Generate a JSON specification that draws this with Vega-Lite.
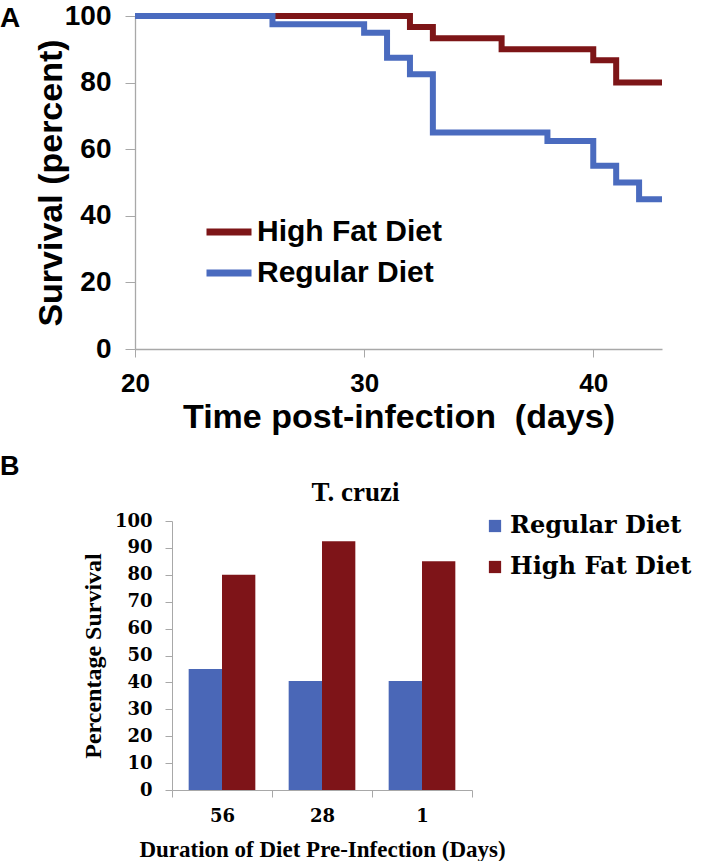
{
  "$schema": "https://vega.github.io/schema/vega-lite/v6.json",
  "padding": {"top": 2, "left": 0, "right": 0, "bottom": 0},
  "background": "white",
  "spacing": 19,
  "config": {
    "view": {"stroke": null},
    "axis": {"grid": false, "labelColor": "black", "titleColor": "black", "domainColor": "#a8a8a8", "tickColor": "#a8a8a8", "labelFlush": false, "labelOverlap": false}
  },
  "resolve": {"scale": {"color": "independent"}, "legend": {"color": "independent"}},
  "datasets": {
    "survival": [
      {"diet": "High Fat Diet", "day": 20, "survival": 100},
      {"diet": "High Fat Diet", "day": 32, "survival": 96.7},
      {"diet": "High Fat Diet", "day": 33, "survival": 93.3},
      {"diet": "High Fat Diet", "day": 36, "survival": 90},
      {"diet": "High Fat Diet", "day": 40, "survival": 86.7},
      {"diet": "High Fat Diet", "day": 41, "survival": 80},
      {"diet": "High Fat Diet", "day": 43, "survival": 80},
      {"diet": "Regular Diet", "day": 20, "survival": 100},
      {"diet": "Regular Diet", "day": 26, "survival": 97.5},
      {"diet": "Regular Diet", "day": 30, "survival": 95},
      {"diet": "Regular Diet", "day": 31, "survival": 87.5},
      {"diet": "Regular Diet", "day": 32, "survival": 82.5},
      {"diet": "Regular Diet", "day": 33, "survival": 65},
      {"diet": "Regular Diet", "day": 38, "survival": 62.5},
      {"diet": "Regular Diet", "day": 40, "survival": 55},
      {"diet": "Regular Diet", "day": 41, "survival": 50},
      {"diet": "Regular Diet", "day": 42, "survival": 45},
      {"diet": "Regular Diet", "day": 43, "survival": 45}
    ],
    "bars": [
      {"duration": "56", "diet": "Regular Diet", "value": 45},
      {"duration": "56", "diet": "High Fat Diet", "value": 80},
      {"duration": "28", "diet": "Regular Diet", "value": 40.5},
      {"duration": "28", "diet": "High Fat Diet", "value": 92.5},
      {"duration": "1", "diet": "Regular Diet", "value": 40.5},
      {"duration": "1", "diet": "High Fat Diet", "value": 85}
    ]
  },
  "vconcat": [
    {
      "title": {"text": "A", "anchor": "start", "frame": "group", "dx": -135, "offset": -31, "font": "Liberation Sans", "fontSize": 28, "fontWeight": "bold", "color": "black"},
      "width": 527,
      "height": 333,
      "data": {"name": "survival"},
      "mark": {"type": "line", "interpolate": "step-after", "strokeWidth": 6, "strokeJoin": "miter"},
      "encoding": {
        "x": {
          "field": "day", "type": "quantitative",
          "scale": {"domain": [20, 43], "nice": false, "zero": false},
          "axis": {"values": [20, 30, 40], "title": "Time post-infection\u00a0 (days)", "labelFont": "Liberation Sans", "labelFontSize": 26, "labelFontWeight": "bold", "titleFont": "Liberation Sans", "titleFontSize": 34, "titleFontWeight": "bold", "tickSize": 8, "labelPadding": 13, "titlePadding": 4, "domainWidth": 1.3}
        },
        "y": {
          "field": "survival", "type": "quantitative",
          "scale": {"domain": [0, 100], "nice": false},
          "axis": {"values": [0, 20, 40, 60, 80, 100], "title": "Survival (percent)", "labelFont": "Liberation Sans", "labelFontSize": 28, "labelFontWeight": "bold", "titleFont": "Liberation Sans", "titleFontSize": 34, "titleFontWeight": "bold", "tickSize": 10, "labelPadding": 14, "titlePadding": -4, "domainWidth": 1.3}
        },
        "color": {
          "field": "diet", "type": "nominal",
          "scale": {"domain": ["High Fat Diet", "Regular Diet"], "range": ["#7d1517", "#4a6bbf"]},
          "legend": {"orient": "none", "legendX": 68, "legendY": 190, "title": null, "symbolType": "stroke", "symbolSize": 2025, "symbolStrokeWidth": 7, "labelFont": "Liberation Sans", "labelFontSize": 30, "labelFontWeight": "bold", "labelColor": "black", "rowPadding": 0, "labelOffset": 2, "labelLimit": 0}
        }
      }
    },
    {
      "title": {"text": "B", "anchor": "start", "frame": "group", "dx": -135, "offset": -2, "font": "Liberation Sans", "fontSize": 27, "fontWeight": "bold", "color": "black"},
      "vconcat": [
        {
          "title": {"text": "T. cruzi", "anchor": "middle", "frame": "group", "dx": 52, "offset": 5, "font": "Liberation Serif", "fontSize": 27, "fontWeight": "bold", "color": "black"},
          "width": 337,
          "height": 269,
          "data": {"name": "bars"},
          "mark": {"type": "bar"},
          "encoding": {
            "x": {
              "field": "duration", "type": "nominal", "sort": ["56", "28", "1"],
              "scale": {"paddingInner": 0, "paddingOuter": 0, "range": [37, 337]},
              "axis": {"title": "Duration of Diet Pre-Infection (Days)", "labelAngle": 0, "tickBand": "extent", "labelFont": "DejaVu Serif", "labelFontSize": 18, "labelFontWeight": "bold", "titleFont": "Liberation Serif", "titleFontSize": 23, "titleFontWeight": "bold", "tickSize": 7, "labelPadding": 10, "titlePadding": 13}
            },
            "xOffset": {"field": "diet", "type": "nominal", "sort": ["Regular Diet", "High Fat Diet"], "scale": {"paddingOuter": 0.5, "paddingInner": 0}},
            "y": {
              "field": "value", "type": "quantitative",
              "scale": {"domain": [0, 100], "nice": false},
              "axis": {"offset": -37, "values": [0, 10, 20, 30, 40, 50, 60, 70, 80, 90, 100], "title": "Percentage Survival", "labelFont": "DejaVu Serif", "labelFontSize": 18, "labelFontWeight": "bold", "titleFont": "Liberation Serif", "titleFontSize": 24, "titleFontWeight": "bold", "tickSize": 7, "labelPadding": 13, "titlePadding": 9}
            },
            "color": {
              "field": "diet", "type": "nominal",
              "scale": {"domain": ["Regular Diet", "High Fat Diet"], "range": ["#4a67b7", "#7e1418"]},
              "legend": {"orient": "none", "legendX": 348, "legendY": -7, "title": null, "symbolType": "square", "symbolSize": 150, "symbolStrokeWidth": 0, "labelFont": "DejaVu Serif", "labelFontSize": 24, "labelFontWeight": "bold", "labelColor": "black", "rowPadding": 17, "labelOffset": 3, "labelLimit": 0}
            }
          }
        }
      ]
    }
  ]
}
